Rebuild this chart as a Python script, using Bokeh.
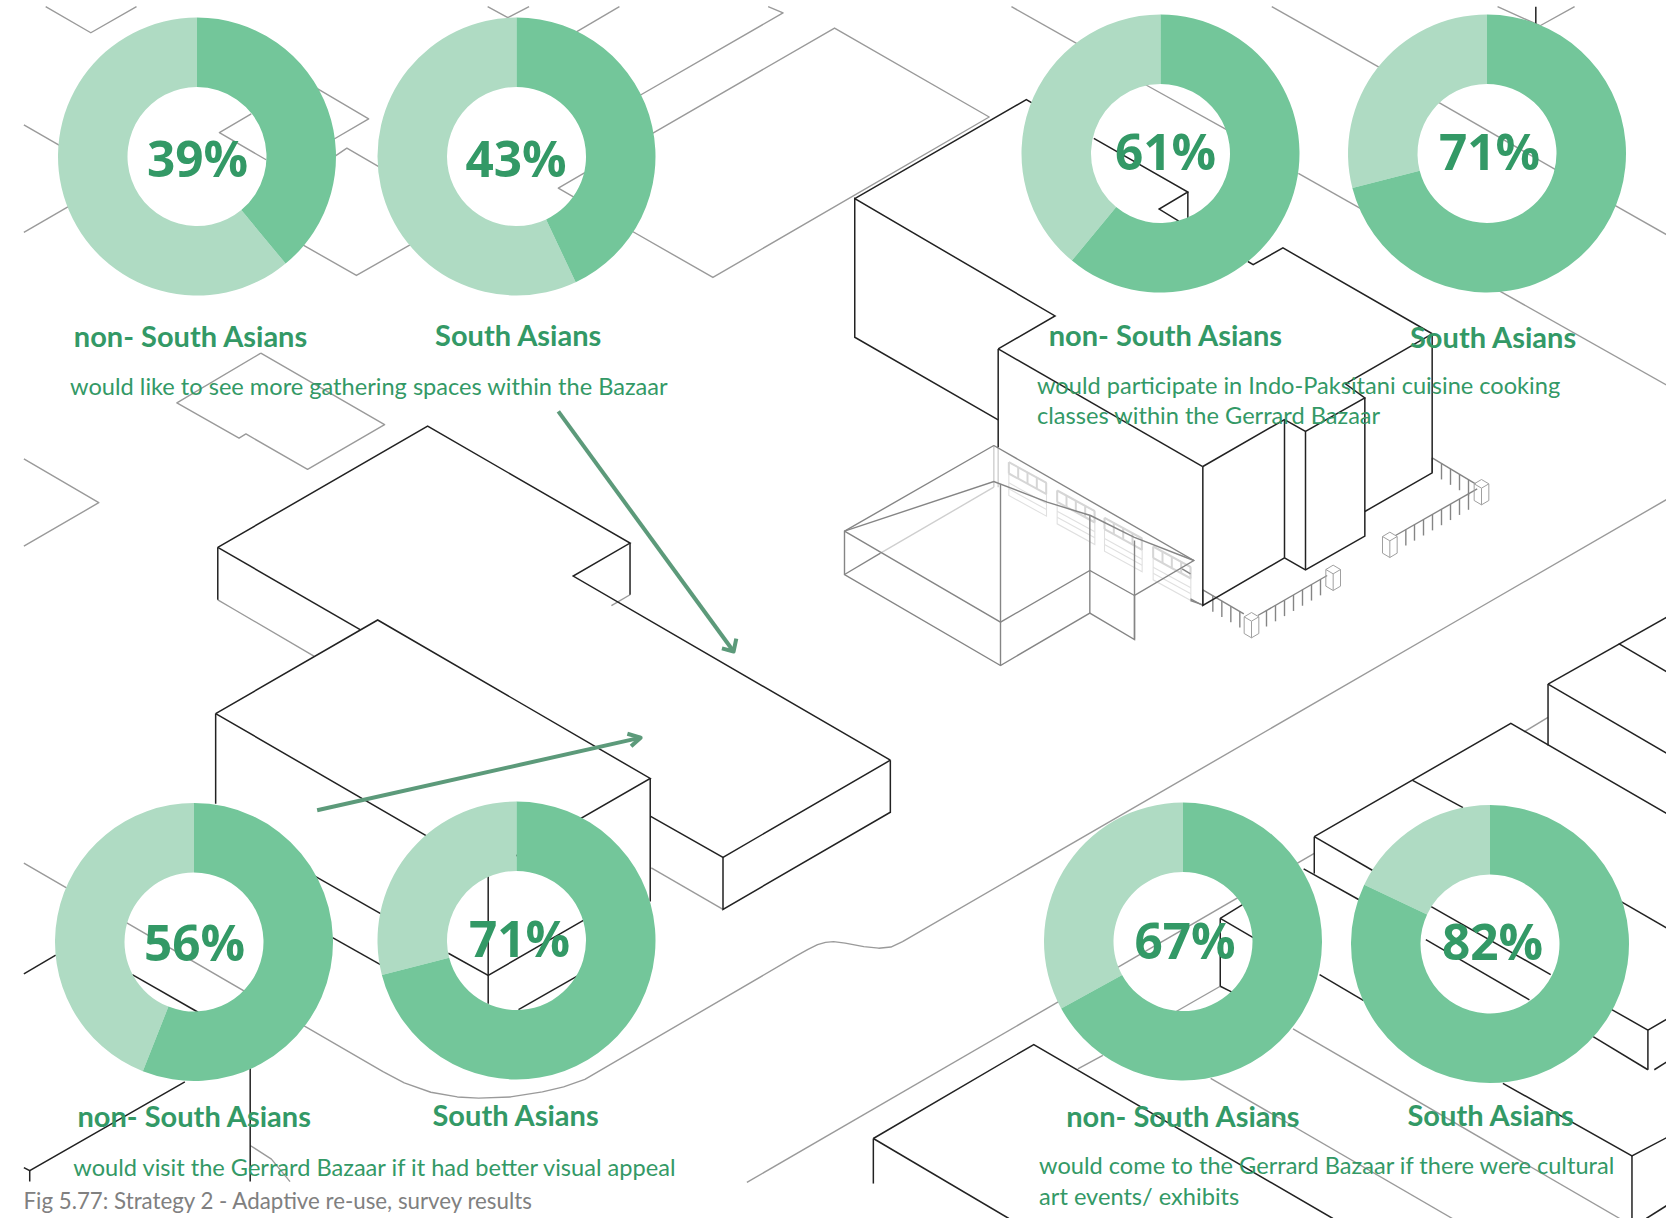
import math
from bokeh.embed import file_html
from bokeh.models import ColumnDataSource, Range1d
from bokeh.plotting import figure
from bokeh.resources import INLINE
from bokeh.core.properties import value

# ---------- chart data ----------
shares = [39, 43, 61, 71, 56, 71, 67, 82]
pct_labels = ["39%", "43%", "61%", "71%", "56%", "71%", "67%", "82%"]
group_labels = ["non- South Asians", "South Asians"] * 4
sentences = [
    "would like to see more gathering spaces within the Bazaar",
    "would participate in Indo-Paksitani cuisine cooking",
    "classes within the Gerrard Bazaar",
    "would visit the Gerrard Bazaar if it had better visual appeal",
    "would come to the Gerrard Bazaar if there were cultural",
    "art events/ exhibits",
]
caption = "Fig 5.77: Strategy 2 - Adaptive re-use, survey results"

# ---------- layout ----------
W, H = 1666, 1218
DARK, LIGHT, TXT = "#73c69a", "#afdbc3", "#339966"
R_OUT, R_IN = 139, 69.5
donut_cx = [196.5, 516, 1160, 1486.5, 193.5, 516, 1182.5, 1489.5]
donut_cy = [156, 156, 153, 153, 941.5, 940, 941, 943.5]
pct_cx = [197, 515.5, 1165, 1489, 194, 519, 1184.5, 1492]
pct_by = [178.5, 178.5, 171, 171.5, 962.5, 958.5, 960.5, 961.5]
lab_x = [73.3, 434.6, 1048.2, 1409.5, 77, 432, 1065.7, 1407]
lab_y = [347.5, 346.5, 346.5, 348.5, 1127, 1126, 1127, 1126]
sent_x = [69.6, 1036.5, 1036.5, 72.8, 1038.6, 1038.6]
sent_y = [395, 394, 424, 1176, 1174.8, 1205]
PCT_PX, LAB_PX, SENT_PX, CAP_PX = 49.5, 29, 23.6, 22.3
BASE_SHIFT = -0.42   # bokeh's alphabetic box sits this many em below the anchor

# ---------- background drawing ----------
# T = trace space of the whole page, G = garage detail, F = fence / tower detail
T_GRAY = [
    [(85,16),(170,83),(256,16)], [(917,16),(955,44),(995,16)], [(1165,16),(1060,100)],
    [(590,222),(693,305),(620,363)], [(625,405),(652,380),(720,434)], [(500,410),(412,340),(472,292)],
    [(44,320),(120,380)], [(44,597),(135,525)], [(560,622),(670,708),(780,622)],
    [(1100,443),(1050,483),(1085,511)], [(1445,16),(1473,32),(1195,251)],
    [(1220,348),(1570,71),(1861,300),(1341,713),(1180,587)],
    [(490,908),(723,1092),(578,1207),(462,1116),(449,1127),(332,1036),(490,908)],
    [(44,1180),(185,1293),(44,1405)], [(409,1543),(440,1568),(590,1688)], [(1185,1530),(1150,1558)],
    [(1225,2233),(1360,2340)],
    [(44,2221),(720,2758),(760,2787),(810,2811),(860,2823),(900,2826),(960,2823),(1020,2810),(1060,2797),
     (1100,2778),(1498,2460),(1520,2443),(1538,2431),(1553,2425),(1568,2423),(1590,2427),(1625,2436),(1653,2440),
     (1676,2437),(1698,2423),(2778,1568),(3136,1285)],
    [(470,2948),(510,2983),(545,3041)], [(1405,3043),(2473,2196)], [(2868,1883),(2913,1846)],
    [(2028,2751),(2075,2716)], [(2296,2538),(2213,2603)], [(2433,2648),(3048,3136)], [(2278,2775),(2733,3136)],
    [(2818,16),(2898,65),(2963,16)], [(2393,16),(2608,182)], [(2698,255),(2933,440)], [(2443,445),(2563,538)],
    [(3033,523),(3136,603)], [(2818,745),(3136,990)], [(1903,16),(2038,120)], [(2153,215),(2318,340)],
]
T_BLACK = [
    [(409,1408),(804,1096),(1185,1397),(1078,1482),(1675,1956)], [(1185,1397),(1185,1530)],
    [(409,1408),(409,1543)], [(409,1408),(677,1620)],
    [(1675,1956),(1360,2206),(1223,2100)], [(1360,2206),(1360,2340),(1675,2090),(1675,1956)],
    [(405,1836),(710,1595),(1223,2003),(918,2243),(405,1836)], [(405,1836),(405,2068)],
    [(918,2243),(918,2583)], [(1223,2003),(1223,2320)], [(590,2253),(718,2353)], [(625,2413),(716,2483)],
    [(843,2453),(918,2510),(1098,2368)], [(975,2598),(1088,2510)], [(248,2508),(372,2605)],
    [(44,2506),(104,2458)], [(347,2784),(55,3013),(44,3005)], [(55,3013),(55,3041)], [(470,2748),(470,3041)],
    [(3136,1588),(2913,1760)], [(3046,1656),(3136,1728)], [(2913,1760),(3136,1938)], [(2913,1760),(2913,1918)],
    [(2473,2153),(2843,1861),(3136,2093)], [(2658,2008),(2753,2078)], [(2473,2153),(2583,2240)],
    [(2473,2153),(2473,2248)], [(2453,2236),(2558,2316)], [(2296,2363),(2338,2328)], [(2296,2363),(2358,2413)],
    [(2296,2363),(2296,2538)], [(2296,2538),(2318,2553)], [(2483,2508),(2566,2575)], [(2693,2333),(2918,2508)],
    [(2683,2418),(2878,2573)], [(3048,2318),(3136,2388)], [(3033,2598),(3101,2651),(3136,2623)],
    [(3101,2651),(3101,2753)], [(2998,2668),(3101,2753)], [(3113,2753),(3136,2733)],
    [(2828,2788),(3071,2975),(3136,2928)], [(3071,2975),(3071,3136)], [(3098,3136),(3136,3103)],
    [(1643,2930),(1945,2688),(2508,3136)], [(1643,2930),(1898,3136)], [(1643,2930),(1643,3046)],
    [(1608,510),(1931,255),(1943,265)], [(2058,355),(2235,493),(2181,537),(2218,568)], [(2235,493),(2235,560)],
    [(2348,672),(2358,680),(2414,637),(2695,858)], [(2890,16),(2890,60)],
    [(1878,897),(2263,1200)], [(1878,897),(1985,812),(1608,510),(1608,867),(1878,1080)], [(1878,897),(1878,1150)],
]
F_BLACK = [
    [(755,40),(495,190),(553,232),(375,333),(312,297),(67,438)],
    [(755,40),(755,457),(553,573)],
    [(553,232),(553,647),(375,748),(312,712),(67,855),(67,438)],
    [(375,333),(375,748)], [(312,297),(312,712)],
]
G_GRAY = [
    [(490,75),(42,332),(42,462),(510,735),(778,578),(912,657),(912,525),(1090,420),(490,75)],
    [(42,332),(510,605),(778,450),(912,525)], [(510,190),(510,735)], [(778,285),(778,578)], [(912,360),(912,657)],
    [(42,332),(490,183),(650,245),(780,285),(910,350),(1090,420)],
    [(42,462),(150,398)], [(1080,540),(1117,553)], [(1055,445),(1080,460)],
]
G_LIGHT = [[(150,398),(490,200)], [(490,75),(490,200)], [(503,80),(503,200)]]
door_tl = [(535,125),(680,210),(822,292),(968,378)]
F_RAILS = [((755,412),(885,490)), ((645,645),(890,505)), ((67,808),(190,880)), ((232,885),(440,765))]
F_TICKS = [[783,810,837,864], [676,702,729,756,783,810,837,864], [97,124,151,178], [258,285,312,339,366,393,420]]
F_POSTS = [(903,477),(628,635),(458,734),(213,876)]
ARROWS = [
    [(1050,1058),(1380,1676)], [(1358,1668),(1380,1676),(1385,1643)],
    [(596,2085),(1205,1898)], [(1180,1888),(1205,1898),(1187,1920)],
]

def T(pts): return [(x*833/1568, y*609/1568) for x, y in pts]
def G(pts): return [(830+x/3, 420+y/3) for x, y in pts]
def F(pts): return [(1180+x/3, 320+y/3) for x, y in pts]

p = figure(width=W, height=H, output_backend="svg", toolbar_location=None,
           x_range=Range1d(0, W), y_range=Range1d(H, 0),
           x_axis_location=None, y_axis_location=None, min_border=0,
           background_fill_color="white", border_fill_color="white", outline_line_color=None)
p.xgrid.visible = False
p.ygrid.visible = False

def draw(lines, color, width, join="miter"):
    p.multi_line([[a for a, _ in l] for l in lines], [[b for _, b in l] for l in lines],
                 line_color=color, line_width=width, line_join=join)

draw([T(l) for l in T_GRAY], "#9a9a9a", 1.4, "round")

# garage doors
door_lines = []
for x0, y0 in door_tl:
    dx, dy, h = 113, 62, 100
    door_lines.append([(x0, y0), (x0+dx, y0+dy), (x0+dx, y0+dy+h), (x0, y0+h), (x0, y0)])
    for f in (0.62, 0.8):
        door_lines.append([(x0, y0+h*f), (x0+dx, y0+dy+h*f)])
draw([G(l) for l in door_lines], "#e0e0e0", 1.1)
bands = []
for x0, y0 in door_tl:
    for off in (0, 34):
        bands.append([(x0, y0+off), (x0+113, y0+62+off)])
    for k in range(5):
        bands.append([(x0+k*28, y0+k*15.5), (x0+k*28, y0+k*15.5+34)])
draw([G(l) for l in bands], "#d6d6d6", 2)
draw([G(l) for l in G_LIGHT], "#cfcfcf", 1.4)
draw([G(l) for l in G_GRAY], "#858585", 1.4)

# fence
fence = []
for ((x1, y1), (x2, y2)), ticks in zip(F_RAILS, F_TICKS):
    fence.append([(x1, y1), (x2, y2)])
    for t in ticks:
        yy = y1 + (y2-y1)*(t-x1)/(x2-x1)
        fence.append([(t, yy), (t, yy+48)])
fence += [[(30,835),(67,855)], [(755,412),(755,455)], [(67,808),(67,855)]]
draw([F(l) for l in fence], "#858585", 1.4)
posts = []
for cx, ty in F_POSTS:
    posts.append([(cx,ty),(cx+22,ty+13),(cx,ty+26),(cx-22,ty+13),(cx,ty)])
    posts.append([(cx-22,ty+13),(cx-22,ty+63),(cx,ty+76),(cx+22,ty+63),(cx+22,ty+13)])
    posts.append([(cx,ty+26),(cx,ty+76)])
p.multi_line([[a for a,_ in F(l)] for l in posts], [[b for _,b in F(l)] for l in posts],
             line_color="#a0a0a0", line_width=1)

draw([T(l) for l in T_BLACK], "#222222", 1.5)
draw([F(l) for l in F_BLACK], "#222222", 1.5)
draw([T(l) for l in ARROWS], "#5c9a7a", 4, "round")

# donuts
bound = [math.pi/2 - 2*math.pi*s/100 for s in shares]
src = ColumnDataSource(dict(x=donut_cx, y=donut_cy, s=shares,
                            b=bound, top=[math.pi/2]*8, b2=[b+2*math.pi for b in bound]))
p.annular_wedge("x", "y", inner_radius=R_IN, outer_radius=R_OUT, start_angle="top", end_angle="b2",
                direction="anticlock", fill_color=LIGHT, line_color=None, source=src)
p.annular_wedge("x", "y", inner_radius=R_IN, outer_radius=R_OUT, start_angle="b", end_angle="top",
                direction="anticlock", fill_color=DARK, line_color=None, source=src)

# texts
FONT = value("Lato")
def txt(xs, ys, labels, px, **kw):
    p.text(xs, ys, text=labels, text_font_size=f"{px}px", text_baseline="alphabetic",
           y_offset=BASE_SHIFT*px, **kw)
txt(pct_cx, pct_by, pct_labels, PCT_PX, text_font=value("Open Sans"), text_font_style="bold",
    text_align="center", text_color=TXT)
txt(lab_x, lab_y, group_labels, LAB_PX, text_font=FONT, text_font_style="bold", text_align="left", text_color=TXT)
txt(sent_x, sent_y, sentences, SENT_PX, text_font=FONT, text_align="left", text_color=TXT)
txt([23], [1209], [caption], CAP_PX, text_font=FONT, text_align="left", text_color="#808080")

open("out.html", "w").write(file_html(p, INLINE))
